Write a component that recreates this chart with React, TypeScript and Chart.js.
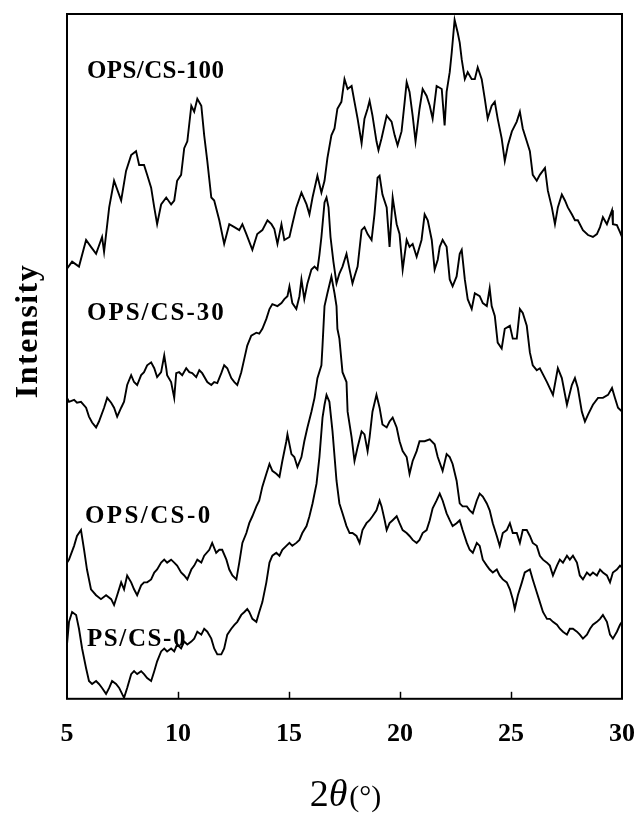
import React, { useEffect, useRef } from 'react';
import { Chart, registerables } from 'chart.js';

Chart.register(...registerables);

// x axis (2θ, degrees)
const xTicks = [5, 10, 15, 20, 25, 30];
const xMin = 5;
const xMax = 30;
const yMin = 0;
const yMax = 694;

const seriesNames = ['OPS/CS-100', 'OPS/CS-30', 'OPS/CS-0', 'PS/CS-0'];

const ops100Theta = [5.00,5.23,5.54,5.86,6.08,6.31,6.58,6.67,6.90,7.12,7.44,7.66,7.89,8.11,8.25,8.47,8.61,8.79,8.93,9.06,9.24,9.47,9.69,9.83,9.96,10.14,10.28,10.42,10.60,10.73,10.87,11.05,11.18,11.32,11.50,11.63,11.86,12.08,12.31,12.54,12.76,12.90,13.08,13.35,13.57,13.80,14.03,14.21,14.34,14.48,14.66,14.79,15.02,15.15,15.33,15.56,15.79,15.92,16.06,16.28,16.46,16.60,16.73,16.91,17.05,17.18,17.36,17.50,17.64,17.82,17.95,18.09,18.27,18.40,18.54,18.63,18.76,18.94,19.03,19.17,19.40,19.62,19.76,19.89,20.07,20.21,20.30,20.43,20.57,20.70,20.88,21.02,21.20,21.34,21.47,21.65,21.88,22.01,22.10,22.24,22.33,22.46,22.60,22.69,22.78,22.92,23.05,23.23,23.37,23.50,23.68,23.82,23.95,24.13,24.27,24.40,24.58,24.72,24.86,25.04,25.26,25.40,25.53,25.71,25.85,25.98,26.16,26.30,26.53,26.66,26.84,26.98,27.11,27.29,27.43,27.56,27.74,27.88,28.01,28.24,28.47,28.69,28.87,29.01,29.14,29.32,29.55,29.59,29.77,29.91,30.00];
const ops100Int = [436,443,438,465,458,451,468,453,498,525,505,535,551,555,541,541,531,518,498,481,501,508,501,505,525,531,558,565,601,595,608,601,571,545,508,505,485,461,481,478,475,481,471,455,471,475,485,481,476,461,481,465,468,481,498,513,501,491,508,530,513,525,548,571,578,598,605,628,618,621,605,588,563,588,598,606,591,565,556,568,591,585,571,561,575,605,625,615,591,565,598,618,611,601,588,621,618,581,615,635,655,688,675,665,648,628,635,628,628,640,628,608,588,601,605,588,568,545,561,575,585,595,578,565,555,531,525,531,538,515,498,481,498,511,505,498,491,485,485,475,470,468,471,478,488,481,495,481,480,473,468];

const ops30Theta = [5.00,5.09,5.32,5.45,5.63,5.86,5.99,6.13,6.31,6.44,6.67,6.81,6.99,7.12,7.26,7.44,7.57,7.71,7.89,8.02,8.16,8.34,8.47,8.61,8.79,8.93,9.06,9.24,9.38,9.47,9.51,9.69,9.83,9.92,10.05,10.19,10.37,10.51,10.64,10.82,10.96,11.09,11.32,11.50,11.63,11.77,11.95,12.08,12.22,12.40,12.54,12.67,12.85,12.99,13.12,13.30,13.53,13.66,13.80,13.98,14.12,14.25,14.48,14.66,14.79,14.93,15.02,15.15,15.33,15.47,15.56,15.69,15.83,16.01,16.15,16.28,16.37,16.46,16.60,16.69,16.78,16.87,17.00,17.14,17.27,17.41,17.59,17.73,17.86,17.95,18.09,18.27,18.40,18.54,18.72,18.85,18.99,19.08,19.21,19.40,19.53,19.67,19.85,19.98,20.12,20.30,20.43,20.57,20.75,20.97,21.11,21.25,21.43,21.56,21.70,21.79,21.92,22.10,22.24,22.37,22.55,22.69,22.78,22.92,23.05,23.23,23.37,23.59,23.73,23.91,24.04,24.13,24.27,24.40,24.58,24.72,24.95,25.08,25.26,25.40,25.53,25.71,25.85,25.98,26.16,26.30,26.62,26.89,27.11,27.29,27.52,27.74,27.88,28.01,28.19,28.33,28.47,28.69,28.92,29.14,29.37,29.55,29.68,29.82,30.00];
const ops30Int = [305,301,303,300,301,295,286,280,275,281,295,305,300,295,286,295,301,318,328,321,318,328,331,338,341,335,326,331,348,335,328,321,305,330,331,328,335,331,330,326,333,330,321,318,321,320,330,338,335,325,321,318,331,345,358,368,371,370,375,385,395,400,398,401,405,408,418,401,395,408,425,405,421,435,438,435,450,468,503,508,498,468,443,421,431,438,451,435,421,428,438,475,478,471,465,491,528,530,511,498,458,508,481,471,435,465,458,461,448,465,491,485,465,435,445,458,465,458,425,418,428,451,455,425,405,395,411,408,401,398,416,398,388,361,355,375,378,365,365,395,391,378,351,338,333,335,321,308,335,325,298,318,325,315,291,281,288,298,305,305,308,315,305,295,291];

const ops0Theta = [5.00,5.09,5.32,5.45,5.63,5.77,5.90,6.08,6.31,6.53,6.76,6.99,7.12,7.26,7.44,7.57,7.71,7.89,8.02,8.16,8.34,8.47,8.61,8.79,8.93,9.06,9.24,9.38,9.51,9.69,9.83,9.96,10.14,10.28,10.42,10.60,10.73,10.87,11.05,11.18,11.41,11.54,11.72,11.86,11.99,12.18,12.31,12.45,12.63,12.76,12.90,13.08,13.21,13.35,13.53,13.66,13.80,13.98,14.12,14.25,14.43,14.57,14.70,14.88,14.93,15.11,15.24,15.38,15.56,15.69,15.83,16.01,16.15,16.28,16.46,16.51,16.60,16.73,16.91,17.05,17.14,17.18,17.27,17.36,17.41,17.59,17.64,17.82,17.95,18.09,18.27,18.40,18.54,18.63,18.76,18.94,19.08,19.21,19.40,19.53,19.67,19.85,19.98,20.12,20.30,20.43,20.57,20.75,20.88,21.11,21.34,21.56,21.70,21.92,22.10,22.24,22.37,22.55,22.69,22.82,23.01,23.14,23.28,23.46,23.59,23.73,23.91,24.04,24.18,24.36,24.49,24.63,24.81,24.95,25.08,25.26,25.40,25.53,25.71,25.85,25.98,26.16,26.30,26.44,26.62,26.75,26.89,27.07,27.20,27.34,27.52,27.65,27.79,27.97,28.10,28.24,28.42,28.56,28.69,28.87,29.01,29.14,29.32,29.46,29.59,29.77,29.91,30.00];
const ops0Int = [138,141,155,165,171,151,131,111,105,101,105,101,95,105,118,111,125,118,111,105,115,118,118,121,128,131,138,141,138,141,138,135,128,125,121,131,135,141,138,145,151,158,148,151,151,141,131,125,121,138,158,168,178,185,195,201,215,228,238,231,228,225,241,261,268,248,245,235,245,261,275,291,305,325,338,358,398,411,428,411,398,375,365,343,331,321,291,265,241,255,271,268,251,265,291,308,295,278,275,281,285,275,261,251,245,228,241,251,261,261,263,258,245,231,248,245,238,221,198,195,195,191,188,201,208,205,198,191,178,165,155,168,171,178,168,168,158,171,171,165,158,155,145,141,138,135,125,135,141,138,145,141,145,138,125,121,128,125,128,125,131,128,125,118,128,131,135,133];

const ps0Theta = [5.00,5.09,5.23,5.41,5.54,5.68,5.86,5.99,6.13,6.31,6.44,6.58,6.76,6.90,7.03,7.21,7.35,7.57,7.71,7.89,8.02,8.16,8.34,8.47,8.61,8.79,8.93,9.06,9.24,9.38,9.51,9.69,9.83,9.96,10.14,10.28,10.42,10.60,10.73,10.87,11.05,11.18,11.32,11.50,11.63,11.77,11.95,12.08,12.22,12.40,12.54,12.67,12.85,12.99,13.12,13.21,13.35,13.53,13.66,13.80,13.98,14.12,14.25,14.43,14.57,14.70,14.88,15.02,15.15,15.33,15.47,15.60,15.79,15.92,16.06,16.24,16.37,16.51,16.60,16.69,16.82,16.96,17.14,17.27,17.41,17.59,17.73,17.86,18.04,18.18,18.31,18.49,18.63,18.76,18.94,19.08,19.17,19.31,19.40,19.53,19.67,19.85,19.98,20.12,20.30,20.43,20.57,20.75,20.88,21.02,21.20,21.34,21.47,21.65,21.79,21.92,22.10,22.24,22.37,22.55,22.69,22.82,23.01,23.14,23.28,23.46,23.59,23.73,23.91,24.04,24.18,24.36,24.49,24.63,24.81,24.95,25.08,25.17,25.31,25.49,25.62,25.85,25.98,26.16,26.30,26.44,26.62,26.75,26.89,27.07,27.20,27.34,27.52,27.65,27.79,27.97,28.10,28.24,28.42,28.56,28.69,28.87,29.01,29.14,29.32,29.46,29.59,29.77,29.91,30.00];
const ps0Int = [55,78,88,85,71,51,31,18,15,18,15,11,5,11,18,15,11,1,11,25,28,25,28,25,21,18,28,38,48,51,48,51,48,55,51,58,55,58,61,68,65,71,68,61,51,45,45,51,65,71,75,78,85,88,91,88,81,78,88,98,118,138,145,148,145,151,155,158,155,158,161,168,175,185,198,218,245,285,298,308,301,271,221,198,188,175,168,168,165,158,171,178,181,185,191,201,195,181,171,178,181,185,178,171,168,165,161,158,161,168,171,181,193,201,208,201,188,181,175,178,181,171,158,151,148,158,155,141,135,131,128,131,125,121,118,111,101,91,105,118,128,131,121,108,98,88,81,81,78,75,71,68,65,71,71,68,65,61,65,71,75,78,81,85,78,65,61,68,75,78];

const seriesTheta = [ops100Theta, ops30Theta, ops0Theta, ps0Theta];
const seriesInt = [ops100Int, ops30Int, ops0Int, ps0Int];

// label placement (layout only)
const labelPos = [
  { x: 87, y: 78, sp: 0.4 },
  { x: 87, y: 320, sp: 2.0 },
  { x: 85, y: 523, sp: 2.4 },
  { x: 87, y: 646, sp: 1.6 },
];

const SERIF = '"Liberation Serif", "Times New Roman", serif';

const decorPlugin = {
  id: 'decor',
  afterDraw(chart: any) {
    const { ctx, chartArea } = chart;
    const xs = chart.scales.x;
    ctx.save();
    ctx.strokeStyle = '#000';
    ctx.lineWidth = 2;
    ctx.strokeRect(chartArea.left, chartArea.top, chartArea.right - chartArea.left, chartArea.bottom - chartArea.top);
    ctx.lineWidth = 1.5;
    xTicks.forEach((v) => {
      if (v === xMin || v === xMax) return;
      const px = Math.round(xs.getPixelForValue(v)) + 0.5;
      ctx.beginPath();
      ctx.moveTo(px, chartArea.bottom);
      ctx.lineTo(px, chartArea.bottom - 7);
      ctx.stroke();
    });

    ctx.fillStyle = '#000';
    ctx.textBaseline = 'alphabetic';
    ctx.textAlign = 'left';
    ctx.font = `bold 25px ${SERIF}`;
    seriesNames.forEach((name, i) => {
      (ctx as any).letterSpacing = `${labelPos[i].sp}px`;
      ctx.fillText(name, labelPos[i].x, labelPos[i].y);
    });

    // y title
    ctx.save();
    ctx.translate(37, 331);
    ctx.rotate(-Math.PI / 2);
    ctx.textAlign = 'center';
    ctx.font = `bold 32px ${SERIF}`;
    (ctx as any).letterSpacing = '1.5px';
    ctx.fillText('Intensity', 0, 0);
    ctx.restore();

    // x title
    (ctx as any).letterSpacing = '0px';
    const parts = [
      { t: '2', f: `38px ${SERIF}` },
      { t: 'θ', f: `italic 38px ${SERIF}` },
      { t: '(°)', f: `30px ${SERIF}` },
    ];
    let total = 0;
    const widths = parts.map((p) => {
      ctx.font = p.f;
      const w = ctx.measureText(p.t).width;
      total += w;
      return w;
    });
    const cx = (chartArea.left + chartArea.right) / 2;
    let x0 = cx - total / 2;
    parts.forEach((p, i) => {
      ctx.font = p.f;
      ctx.fillText(p.t, x0, 806);
      x0 += widths[i] + (i === 1 ? 2 : 0);
    });
    ctx.restore();
  },
};

export default function App() {
  const ref = useRef<HTMLCanvasElement | null>(null);
  useEffect(() => {
    document.body.style.margin = '0';
    if (!ref.current) return;
    const chart = new Chart(ref.current, {
      type: 'line',
      data: {
        datasets: seriesNames.map((name, i) => ({
          label: name,
          data: seriesTheta[i].map((t, j) => ({ x: t, y: seriesInt[i][j] })),
          borderColor: '#000',
          backgroundColor: '#000',
          borderWidth: 1.9,
          pointRadius: 0,
          tension: 0,
          fill: false,
        })),
      },
      options: {
        responsive: false,
        maintainAspectRatio: false,
        animation: false,
        layout: { padding: { left: 67, right: 18, top: 14, bottom: 52 } },
        plugins: { legend: { display: false }, tooltip: { enabled: false } },
        scales: {
          x: {
            type: 'linear',
            min: xMin,
            max: xMax,
            afterBuildTicks: (axis: any) => {
              axis.ticks = xTicks.map((v) => ({ value: v }));
            },
            afterFit: (axis: any) => {
              axis.paddingLeft = 0;
              axis.paddingRight = 0;
            },
            grid: { display: false },
            border: { display: false },
            ticks: {
              color: '#000',
              font: { family: SERIF, weight: 'bold', size: 26 },
              padding: 12,
              maxRotation: 0,
              autoSkip: false,
            },
          },
          y: { display: false, min: yMin, max: yMax },
        },
      },
      plugins: [decorPlugin],
    } as any);
    return () => chart.destroy();
  }, []);
  return (
    <div style={{ position: 'absolute', left: 0, top: 0, width: 640, height: 814, background: '#fff' }}>
      <canvas ref={ref} width={640} height={814} style={{ display: 'block', width: 640, height: 814 }} />
    </div>
  );
}
